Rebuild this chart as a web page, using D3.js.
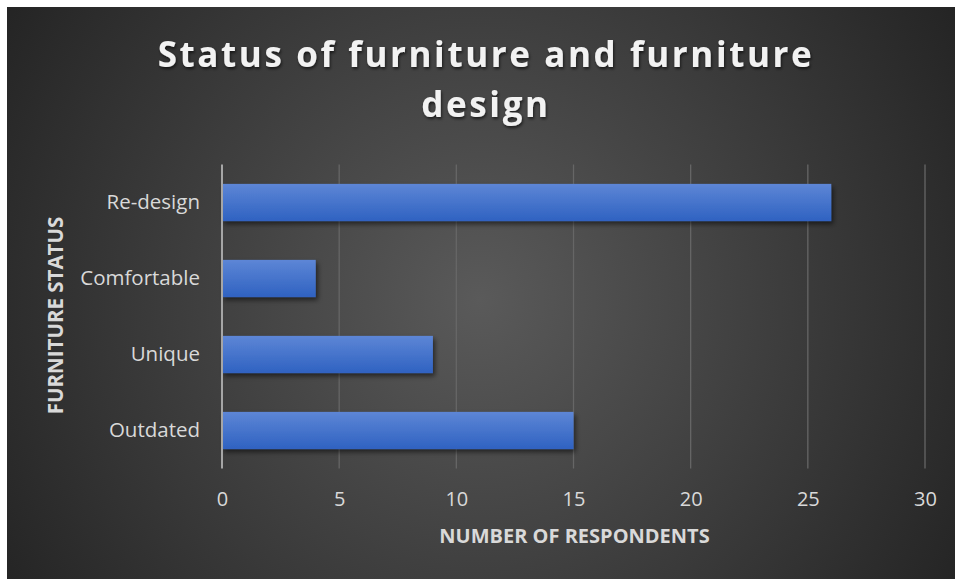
<!DOCTYPE html>
<html>
<head>
<meta charset="utf-8">
<script src="https://cdn.jsdelivr.net/npm/d3@7"></script>
<style>
  html, body { margin: 0; padding: 0; background: #ffffff; }
  svg { display: block; }
</style>
</head>
<body>
<svg id="chart" width="955" height="579"></svg>
<script>
// Survey results: status of furniture and furniture design
const categories = ["Re-design", "Comfortable", "Unique", "Outdated"];
const respondents = [26, 4, 9, 15];
const xTicks = [0, 5, 10, 15, 20, 25, 30];
const titleLines = ["Status of furniture and furniture", "design"];
const xAxisTitle = "NUMBER OF RESPONDENTS";
const yAxisTitle = "FURNITURE STATUS";

const data = categories.map((c, i) => ({ category: c, value: respondents[i] }));

const W = 955, H = 579;
const frame = { x: 7, y: 7 };
const plot = { left: 222, right: 925, top: 164.5, bottom: 468.5 };
const font = "'Open Sans', 'Noto Sans', sans-serif";

const svg = d3.select("#chart");
const defs = svg.append("defs");

// dark radial backdrop
const bg = defs.append("radialGradient").attr("id", "bgGrad")
  .attr("gradientUnits", "userSpaceOnUse")
  .attr("cx", 480).attr("cy", 300).attr("r", 560);
bg.append("stop").attr("offset", "0%").attr("stop-color", "#5a5a5a");
bg.append("stop").attr("offset", "100%").attr("stop-color", "#242424");

// bar fill: lighter blue at top, deeper at bottom
const barGrad = defs.append("linearGradient").attr("id", "barGrad")
  .attr("x1", 0).attr("y1", 0).attr("x2", 0).attr("y2", 1);
barGrad.append("stop").attr("offset", "0%").attr("stop-color", "#5d86d6");
barGrad.append("stop").attr("offset", "100%").attr("stop-color", "#2f62c1");

const barShadow = defs.append("filter").attr("id", "barShadow")
  .attr("x", "-5%").attr("y", "-30%").attr("width", "115%").attr("height", "180%");
barShadow.append("feDropShadow").attr("dx", 2).attr("dy", 3)
  .attr("stdDeviation", 2.5).attr("flood-color", "#000").attr("flood-opacity", 0.55);

const textShadow = defs.append("filter").attr("id", "textShadow")
  .attr("x", "-10%").attr("y", "-30%").attr("width", "120%").attr("height", "160%");
textShadow.append("feDropShadow").attr("dx", 1).attr("dy", 2)
  .attr("stdDeviation", 1.5).attr("flood-color", "#000").attr("flood-opacity", 0.6);

svg.append("rect")
  .attr("x", frame.x).attr("y", frame.y)
  .attr("width", W - frame.x).attr("height", H - frame.y)
  .attr("fill", "url(#bgGrad)");

const x = d3.scaleLinear().domain([0, 30]).range([plot.left, plot.right]);
const y = d3.scaleBand().domain(categories).range([plot.top, plot.bottom]).paddingInner(0.51).paddingOuter(0.255);

// vertical gridlines
svg.append("g")
  .selectAll("line")
  .data(xTicks.filter(t => t > 0))
  .join("line")
  .attr("x1", d => x(d)).attr("x2", d => x(d))
  .attr("y1", plot.top).attr("y2", plot.bottom)
  .attr("stroke", "#666666").attr("stroke-width", 1.3);

// bars
svg.append("g")
  .selectAll("rect")
  .data(data)
  .join("rect")
  .attr("x", x(0))
  .attr("y", d => y(d.category))
  .attr("width", d => x(d.value) - x(0))
  .attr("height", y.bandwidth())
  .attr("fill", "url(#barGrad)")
  .attr("filter", "url(#barShadow)");

// category axis line
svg.append("line")
  .attr("x1", x(0)).attr("x2", x(0))
  .attr("y1", plot.top).attr("y2", plot.bottom)
  .attr("stroke", "#a6a6a6").attr("stroke-width", 2);

// value axis (labels only)
const xAxis = svg.append("g")
  .attr("transform", `translate(0, ${plot.bottom})`)
  .call(d3.axisBottom(x).tickValues(xTicks).tickSize(0).tickPadding(23));
xAxis.select(".domain").remove();
xAxis.selectAll("text")
  .attr("fill", "#d9d9d9")
  .style("font-family", font).style("font-size", "20px");

// category axis labels
const yAxis = svg.append("g")
  .attr("transform", `translate(${plot.left}, 0)`)
  .call(d3.axisLeft(y).tickSize(0).tickPadding(22));
yAxis.select(".domain").remove();
yAxis.selectAll("text")
  .attr("fill", "#d9d9d9")
  .style("font-family", font).style("font-size", "20.5px");

// title
const title = svg.append("text")
  .attr("text-anchor", "middle")
  .attr("fill", "#f2f2f2")
  .attr("filter", "url(#textShadow)")
  .style("font-family", font).style("font-weight", 700)
  .style("font-size", "35px").style("letter-spacing", "2.6px");
titleLines.forEach((line, i) => {
  title.append("tspan").attr("x", 486).attr("y", 67 + i * 50).text(line);
});

// axis titles
svg.append("text")
  .attr("x", 574.5).attr("y", 543)
  .attr("text-anchor", "middle")
  .attr("fill", "#d9d9d9")
  .style("font-family", font).style("font-weight", 700).style("font-size", "20px")
  .text(xAxisTitle);

svg.append("text")
  .attr("transform", "translate(63, 315.5) rotate(-90)")
  .attr("text-anchor", "middle")
  .attr("fill", "#d9d9d9")
  .style("font-family", font).style("font-weight", 700).style("font-size", "20.5px")
  .text(yAxisTitle);
</script>
</body>
</html>
